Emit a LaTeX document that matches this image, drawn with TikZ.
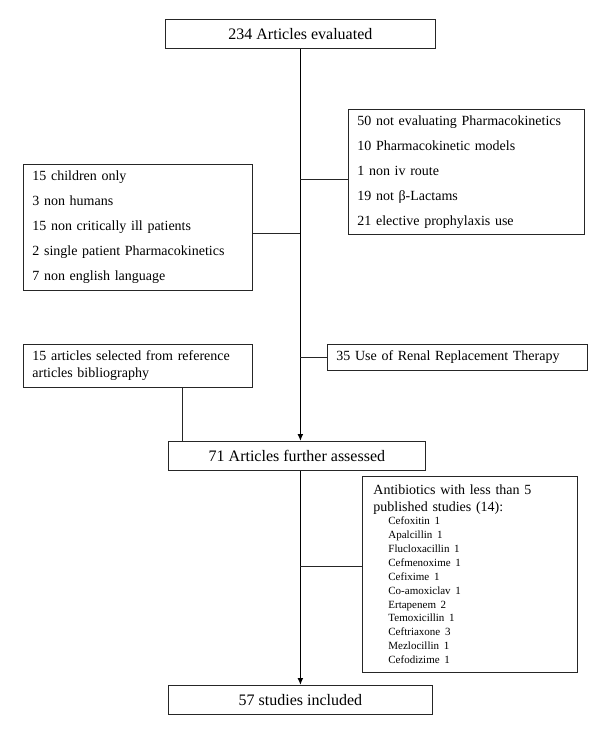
\documentclass[tikz,border=0pt]{standalone}
\usepackage{fontspec}
\setmainfont{Liberation Serif}
\usetikzlibrary{arrows.meta}

\newcommand{\abxfont}{\fontsize{11}{13.9}\selectfont}
\newcommand{\drug}[1]{\hspace*{15pt}#1}

\begin{document}
\begin{tikzpicture}[
            x = 1pt, y = -1pt, % pixel units, y going down
            > = {Latex[length=7pt, width=6pt]}, % arrow head style
            semithick % line style
        ]

        \tikzstyle{mainbox}=[
            draw = black!85,
            line width = 0.8pt,
            font = \fontsize{16}{19}\selectfont,
            minimum height = 29pt,
            inner sep = 0pt,
            anchor = north west
        ]
        \tikzstyle{sidebox}=[
            draw = black!85,
            line width = 0.8pt,
            font = \fontsize{14}{25}\selectfont,
            align = left,
            inner xsep = 9pt,
            inner ysep = 0pt,
            anchor = north west
        ]
        \tikzstyle{trunk}=[line width = 1.4pt, black]
        \tikzstyle{branch}=[line width = 0.8pt, black!85]

        \useasboundingbox (0,0) rectangle (600,735);

        \node[mainbox, minimum width=270pt] (eval) at (165,19) {234 Articles evaluated};
        \node[mainbox, minimum width=257pt] (assess) at (168,441) {71 Articles further assessed};
        \node[mainbox, minimum width=264pt] (incl) at (168,685) {57 studies included};

        \node[sidebox, text width=218pt, minimum height=125pt] (noPK) at (348,109)
            {50 not evaluating Pharmacokinetics\\ 10 Pharmacokinetic models\\
             1 non iv route\\ 19 not β-Lactams\\ 21 elective prophylaxis use};
        \node[sidebox, text width=211pt, minimum height=126pt] (noCrit) at (23,164)
            {15 children only\\ 3 non humans\\ 15 non critically ill patients\\
             2 single patient Pharmacokinetics\\ 7 non english language};
        \node[sidebox, font=\fontsize{14}{17}\selectfont, text width=211pt, minimum height=43pt] (biblio) at (23,344)
            {15 articles selected from reference\\ articles bibliography};
        \node[sidebox, text width=242pt, minimum height=26pt] (rrt) at (327,344)
            {35 Use of Renal Replacement Therapy};
        \node[sidebox, font=\fontsize{14}{17}\selectfont, inner xsep=11pt, text width=193pt, minimum height=196pt] (abx) at (362,476)
            {Antibiotics with less than 5\\ published studies (14):\\[-1pt]
             \abxfont\drug{Cefoxitin 1}\\ \drug{Apalcillin 1}\\ \drug{Flucloxacillin 1}\\
             \drug{Cefmenoxime 1}\\ \drug{Cefixime 1}\\ \drug{Co-amoxiclav 1}\\
             \drug{Ertapenem 2}\\ \drug{Temoxicillin 1}\\ \drug{Ceftriaxone 3}\\
             \drug{Mezlocillin 1}\\ \drug{Cefodizime 1}\par};

        \coordinate (j1) at (300,179);
        \coordinate (j2) at (300,233);
        \coordinate (j3) at (300,566);

        \path[trunk, ->] (eval.south) edge (eval.south |- assess.north);
        \path[trunk, ->] (eval.south |- assess.south) edge (eval.south |- incl.north);
        \path[branch] (j1) edge (j1 -| noPK.west);
        \path[branch] (j2) edge (j2 -| noCrit.east);
        \path[branch] (rrt.west -| eval.south) edge (rrt.west);
        \path[branch] (j3) edge (j3 -| abx.west);
        \path[branch] ([xshift=44.5pt]biblio.south) edge ([xshift=44.5pt]biblio.south |- assess.north);

  \end{tikzpicture}
\end{document}
